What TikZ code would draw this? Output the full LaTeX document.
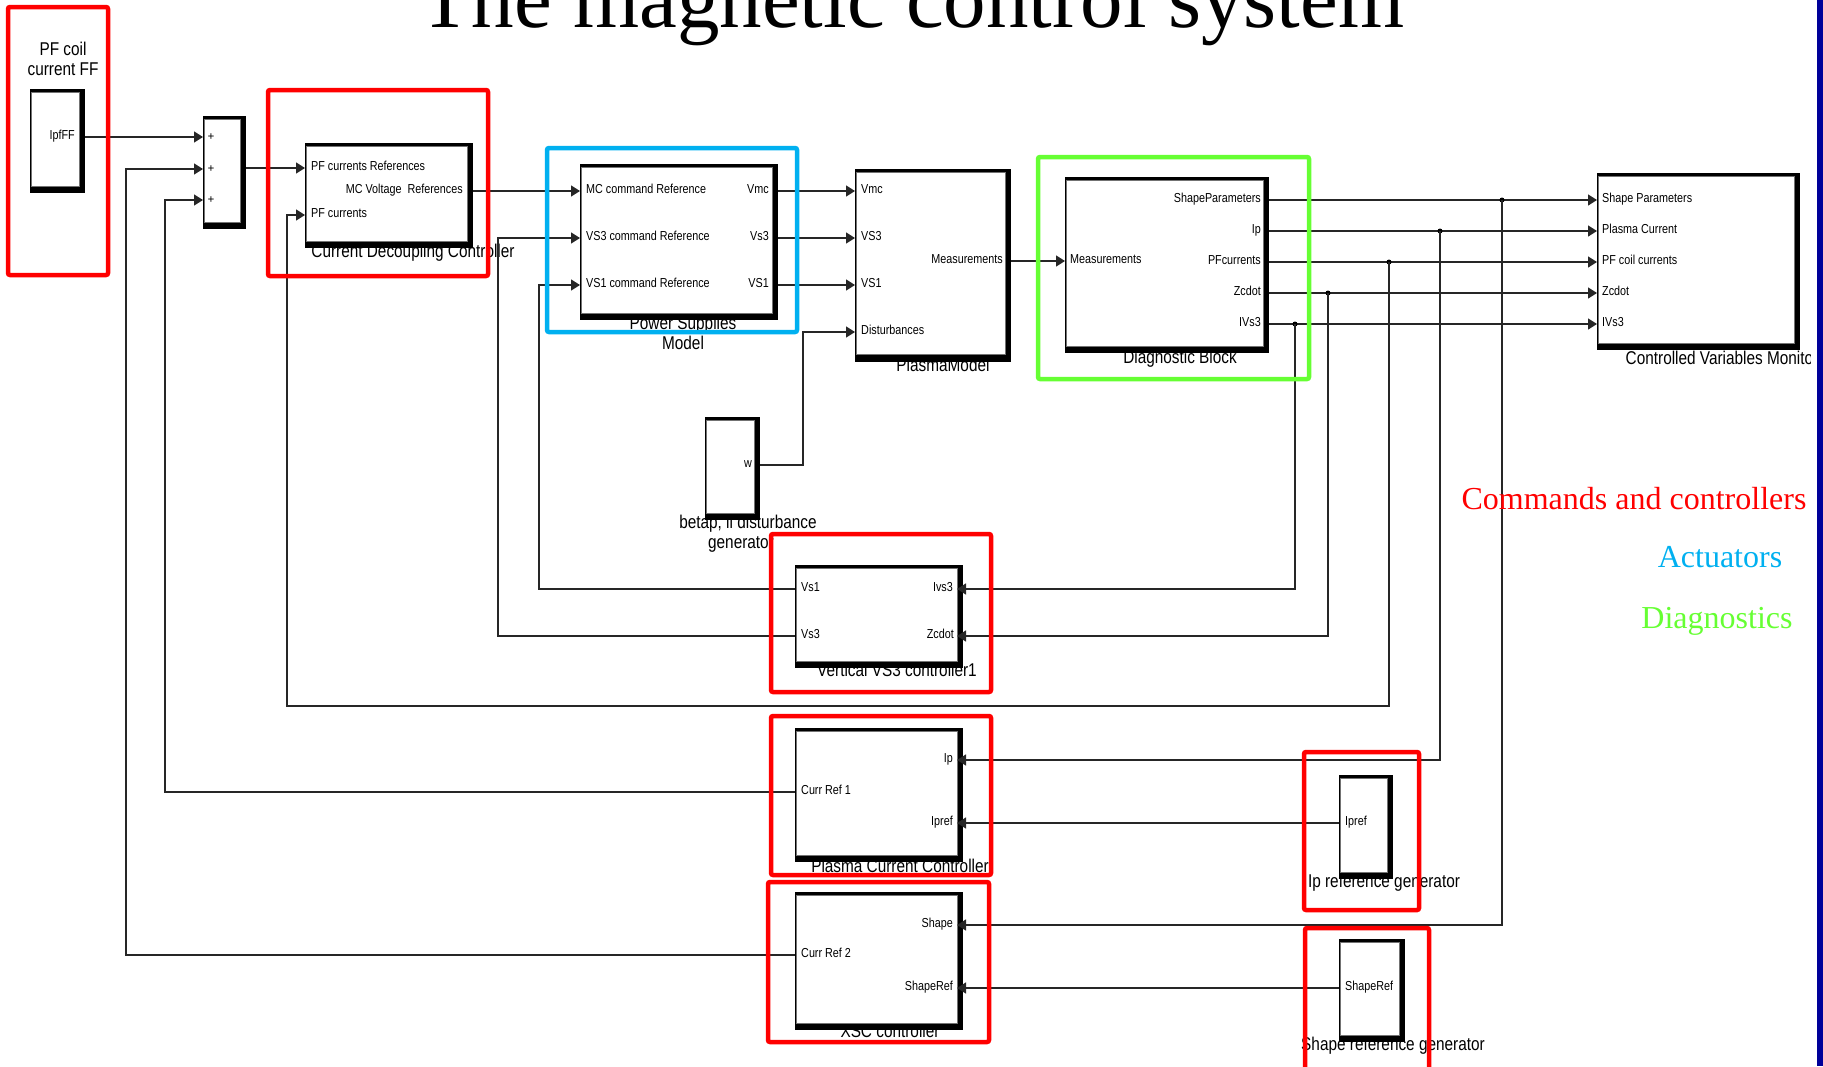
\documentclass[tikz,border=0pt]{standalone}
\usepackage{fontspec}
\setmainfont{Liberation Serif}
\newfontfamily\narrowsans[FakeStretch=0.83]{Liberation Sans}
\usetikzlibrary{arrows.meta,fit}
\definecolor{ctrlred}{RGB}{255,0,0}
\definecolor{actblue}{RGB}{0,176,240}
\definecolor{diaggreen}{RGB}{102,255,51}
\definecolor{slidenavy}{RGB}{0,0,153}
\tikzset{
  face/.style={fill=white, draw=black!55, line width=0.8pt, inner sep=0pt},
  portlbl/.style={font=\narrowsans\fontsize{13}{15}\selectfont, inner sep=0pt},
  blklbl/.style={font=\narrowsans\fontsize{18.5}{20}\selectfont, inner sep=0pt, align=center},
  sig/.style={line width=1.4pt, black!85},
  arr/.style={sig, -{Triangle[length=9pt,width=11pt]}},
  grpbox/.style={line width=4.5pt, rounded corners=2pt},
  branch/.style={circle, fill=black, inner sep=0pt, minimum size=5pt},
  legend/.style={font=\fontsize{32}{34}\selectfont, inner sep=0pt, anchor=base},
}

\begin{document}
\begin{tikzpicture}[x=1pt, y=-1pt]
		\useasboundingbox (0,0) rectangle (1823,1066);
		\clip (0,0) rectangle (1823,1066);
		\node[anchor=base, font=\fontsize{85}{90}\selectfont, inner sep=0pt] (heading) at (912,27) {The magnetic control system};

		% block names (partly under the shadows)
		\node[blklbl, anchor=north] (ff-name) at (63,42) {PF coil\\current FF};
		\node[blklbl, anchor=base] (cdc-name) at (413,257) {Current Decoupling Controller};
		\node[blklbl, anchor=north] (ps-name) at (683,316) {Power Supplies\\Model};
		\node[blklbl, anchor=base] (pm-name) at (943,371) {PlasmaModel};
		\node[blklbl, anchor=base] (dgen-name1) at (748,528) {betap, li disturbance};
		\node[blklbl, anchor=base] (dgen-name2) at (741,548) {generator};
		\node[blklbl, anchor=base] (diag-name) at (1180,363) {Diagnostic Block};
		\begin{scope}
		\clip (1590,340) rectangle (1810,380);
		\node[blklbl, anchor=base] (mon-name) at (1722,364) {Controlled Variables Monitor};
		\end{scope}
		\node[blklbl, anchor=base] (vs3c-name) at (897,676) {Vertical VS3 controller1};
		\node[blklbl, anchor=base] (pc-name) at (900,872) {Plasma Current Controller};
		\node[blklbl, anchor=base] (xsc-name) at (890,1037) {XSC controller};
		\node[blklbl, anchor=base] (ipgen-name) at (1384,887) {Ip reference generator};
		\node[blklbl, anchor=base] (shgen-name) at (1393,1050) {Shape reference generator};

		% blocks: black shadow, white face
		\fill (30,89) rectangle (85,193);
		\node[face, fit={(31.5,92) (79,186)}] (ipfff) {};
		\fill (203,116) rectangle (246,229);
		\node[face, fit={(204.5,119) (240,222)}] (sum) {};
		\fill (305,143) rectangle (473,248);
		\node[face, fit={(306.5,146) (467,241)}] (cdc) {};
		\fill (580,164) rectangle (778,320);
		\node[face, fit={(581.5,167) (772,313)}] (ps) {};
		\fill (855,169) rectangle (1011,362);
		\node[face, fit={(856.5,172) (1005,354)}] (pm) {};
		\fill (705,417) rectangle (760,520);
		\node[face, fit={(706.5,420) (754,513)}] (dgen) {};
		\fill (1065,177) rectangle (1269,353);
		\node[face, fit={(1066.5,180) (1263,346)}] (diag) {};
		\fill (1597,173) rectangle (1800,350);
		\node[face, fit={(1598.5,176) (1794,343)}] (mon) {};
		\fill (795,565) rectangle (963,668);
		\node[face, fit={(796.5,568) (957,661)}] (vs3c) {};
		\fill (795,728) rectangle (963,862);
		\node[face, fit={(796.5,731) (957,855)}] (pc) {};
		\fill (795,892) rectangle (963,1030);
		\node[face, fit={(796.5,895) (957,1023)}] (xsc) {};
		\fill (1339,775) rectangle (1393,879);
		\node[face, fit={(1340.5,778) (1387,872)}] (ipgen) {};
		\fill (1339,939) rectangle (1405,1042);
		\node[face, fit={(1340.5,942) (1399,1035)}] (shgen) {};

		% port labels
		\node[portlbl, anchor=mid east] (ipfff-p) at (75,137) {IpfFF};
		\foreach \y/\n in {137/1,169/2,200/3}
			\node[portlbl, font=\bfseries\fontsize{12}{12}\selectfont] (sum-p\n) at (211,\y) {+};
		\node[portlbl, anchor=mid west] (cdc-p1) at (311,168) {PF currents References};
		\node[portlbl, anchor=mid east] (cdc-p2) at (463,191) {MC Voltage~~References};
		\node[portlbl, anchor=mid west] (cdc-p3) at (311,215) {PF currents};
		\node[portlbl, anchor=mid west] (ps-p1) at (586,191) {MC command Reference};
		\node[portlbl, anchor=mid west] (ps-p2) at (586,238) {VS3 command Reference};
		\node[portlbl, anchor=mid west] (ps-p3) at (586,285) {VS1 command Reference};
		\node[portlbl, anchor=mid east] (ps-p4) at (769,191) {Vmc};
		\node[portlbl, anchor=mid east] (ps-p5) at (769,238) {Vs3};
		\node[portlbl, anchor=mid east] (ps-p6) at (769,285) {VS1};
		\node[portlbl, anchor=mid west] (pm-p1) at (861,191) {Vmc};
		\node[portlbl, anchor=mid west] (pm-p2) at (861,238) {VS3};
		\node[portlbl, anchor=mid west] (pm-p3) at (861,285) {VS1};
		\node[portlbl, anchor=mid west] (pm-p4) at (861,332) {Disturbances};
		\node[portlbl, anchor=mid east] (pm-p5) at (1003,261) {Measurements};
		\node[portlbl, anchor=mid east] (dgen-p) at (752,465) {w};
		\node[portlbl, anchor=mid west] (diag-p0) at (1070,261) {Measurements};
		\node[portlbl, anchor=mid east] (diag-p1) at (1261,200) {ShapeParameters};
		\node[portlbl, anchor=mid east] (diag-p2) at (1261,231) {Ip};
		\node[portlbl, anchor=mid east] (diag-p3) at (1261,262) {PFcurrents};
		\node[portlbl, anchor=mid east] (diag-p4) at (1261,293) {Zcdot};
		\node[portlbl, anchor=mid east] (diag-p5) at (1261,324) {IVs3};
		\node[portlbl, anchor=mid west] (mon-p1) at (1602,200) {Shape Parameters};
		\node[portlbl, anchor=mid west] (mon-p2) at (1602,231) {Plasma Current};
		\node[portlbl, anchor=mid west] (mon-p3) at (1602,262) {PF coil currents};
		\node[portlbl, anchor=mid west] (mon-p4) at (1602,293) {Zcdot};
		\node[portlbl, anchor=mid west] (mon-p5) at (1602,324) {IVs3};
		\node[portlbl, anchor=mid west] (vs3c-p1) at (801,589) {Vs1};
		\node[portlbl, anchor=mid west] (vs3c-p2) at (801,636) {Vs3};
		\node[portlbl, anchor=mid east] (vs3c-p3) at (953,589) {Ivs3};
		\node[portlbl, anchor=mid east] (vs3c-p4) at (954,636) {Zcdot};
		\node[portlbl, anchor=mid east] (pc-p1) at (953,760) {Ip};
		\node[portlbl, anchor=mid east] (pc-p2) at (953,823) {Ipref};
		\node[portlbl, anchor=mid west] (pc-p3) at (801,792) {Curr Ref 1};
		\node[portlbl, anchor=mid east] (xsc-p1) at (953,925) {Shape};
		\node[portlbl, anchor=mid east] (xsc-p2) at (953,988) {ShapeRef};
		\node[portlbl, anchor=mid west] (xsc-p3) at (801,955) {Curr Ref 2};
		\node[portlbl, anchor=mid west] (ipgen-p) at (1345,823) {Ipref};
		\node[portlbl, anchor=mid west] (shgen-p) at (1345,988) {ShapeRef};

		% ports and bends
		\coordinate (ipfff-out) at (85,137);
		\coordinate (sum-in1) at (203,137);
		\coordinate (sum-in2) at (203,169);
		\coordinate (sum-in3) at (203,200);
		\coordinate (sum-out) at (246,168);
		\coordinate (cdc-in1) at (305,168);
		\coordinate (cdc-in2) at (305,215);
		\coordinate (cdc-out) at (473,191);
		\coordinate (ps-in1) at (580,191);
		\coordinate (ps-in2) at (580,238);
		\coordinate (ps-in3) at (580,285);
		\coordinate (ps-out1) at (778,191);
		\coordinate (ps-out2) at (778,238);
		\coordinate (ps-out3) at (778,285);
		\coordinate (pm-in1) at (855,191);
		\coordinate (pm-in2) at (855,238);
		\coordinate (pm-in3) at (855,285);
		\coordinate (pm-in4) at (855,332);
		\coordinate (pm-out) at (1011,261);
		\coordinate (dgen-out) at (760,465);
		\coordinate (diag-in) at (1065,261);
		\coordinate (vs3c-out1) at (795,589);
		\coordinate (vs3c-out2) at (795,636);
		\coordinate (vs3c-in1) at (957,589);
		\coordinate (vs3c-in2) at (957,636);
		\coordinate (pc-out) at (795,792);
		\coordinate (pc-in1) at (957,760);
		\coordinate (pc-in2) at (957,823);
		\coordinate (xsc-out) at (795,955);
		\coordinate (xsc-in1) at (957,925);
		\coordinate (xsc-in2) at (957,988);
		\coordinate (ipgen-out) at (1339,823);
		\coordinate (shgen-out) at (1339,988);
		\coordinate (bend-dist) at (803,332);
		\coordinate (bend-pf) at (287,706);
		\coordinate (bend-vs1) at (539,589);
		\coordinate (bend-vs3) at (498,636);
		\coordinate (bend-cr1) at (165,792);
		\coordinate (bend-cr2) at (126,955);

		% signals
		\draw[arr] (ipfff-out) -- (sum-in1);
		\draw[arr] (sum-out) -- (cdc-in1);
		\draw[arr] (cdc-out) -- (ps-in1);
		\foreach \n in {1,2,3}
			\draw[arr] (ps-out\n) -- (pm-in\n);
		\draw[arr] (dgen-out) -| (bend-dist) -- (pm-in4);
		\draw[arr] (pm-out) -- (diag-in);
		\foreach \y/\n in {200/1,231/2,262/3,293/4,324/5}
			\draw[arr] (1269,\y) coordinate (diag-out\n) -- (1597,\y) coordinate (mon-in\n);
		\node[branch] (br-ivs3) at (1295,324) {};
		\node[branch] (br-zcdot) at (1328,293) {};
		\node[branch] (br-pf) at (1389,262) {};
		\node[branch] (br-ip) at (1440,231) {};
		\node[branch] (br-shape) at (1502,200) {};
		\draw[arr] (br-ivs3.center) |- (vs3c-in1);
		\draw[arr] (br-zcdot.center) |- (vs3c-in2);
		\draw[arr] (br-pf.center) |- (bend-pf) |- (cdc-in2);
		\draw[arr] (br-ip.center) |- (pc-in1);
		\draw[arr] (br-shape.center) |- (xsc-in1);
		\draw[arr] (vs3c-out1) -- (bend-vs1) |- (ps-in3);
		\draw[arr] (vs3c-out2) -- (bend-vs3) |- (ps-in2);
		\draw[arr] (pc-out) -- (bend-cr1) |- (sum-in3);
		\draw[arr] (xsc-out) -- (bend-cr2) |- (sum-in2);
		\draw[arr] (ipgen-out) -- (pc-in2);
		\draw[arr] (shgen-out) -- (xsc-in2);

		% groups
		\draw[grpbox, ctrlred] (8,7) rectangle (108,275);
		\draw[grpbox, ctrlred] (268,90) rectangle (488,276);
		\draw[grpbox, actblue] (547,148) rectangle (797,332);
		\draw[grpbox, diaggreen] (1038,157) rectangle (1309,379);
		\draw[grpbox, ctrlred] (771,534) rectangle (991,692);
		\draw[grpbox, ctrlred] (771,716) rectangle (991,875);
		\draw[grpbox, ctrlred] (768,882) rectangle (989,1042);
		\draw[grpbox, ctrlred] (1304,752) rectangle (1419,910);
		\draw[grpbox, ctrlred] (1305,928) rectangle (1429,1080);

		% legend
		\node[legend, ctrlred] (leg-ctrl) at (1634,509) {Commands and controllers};
		\node[legend, actblue] (leg-act) at (1720,567) {Actuators};
		\node[legend, diaggreen] (leg-diag) at (1717,628) {Diagnostics};
		\fill[slidenavy] (1817,0) rectangle (1823,1066);
\end{tikzpicture}
\end{document}
